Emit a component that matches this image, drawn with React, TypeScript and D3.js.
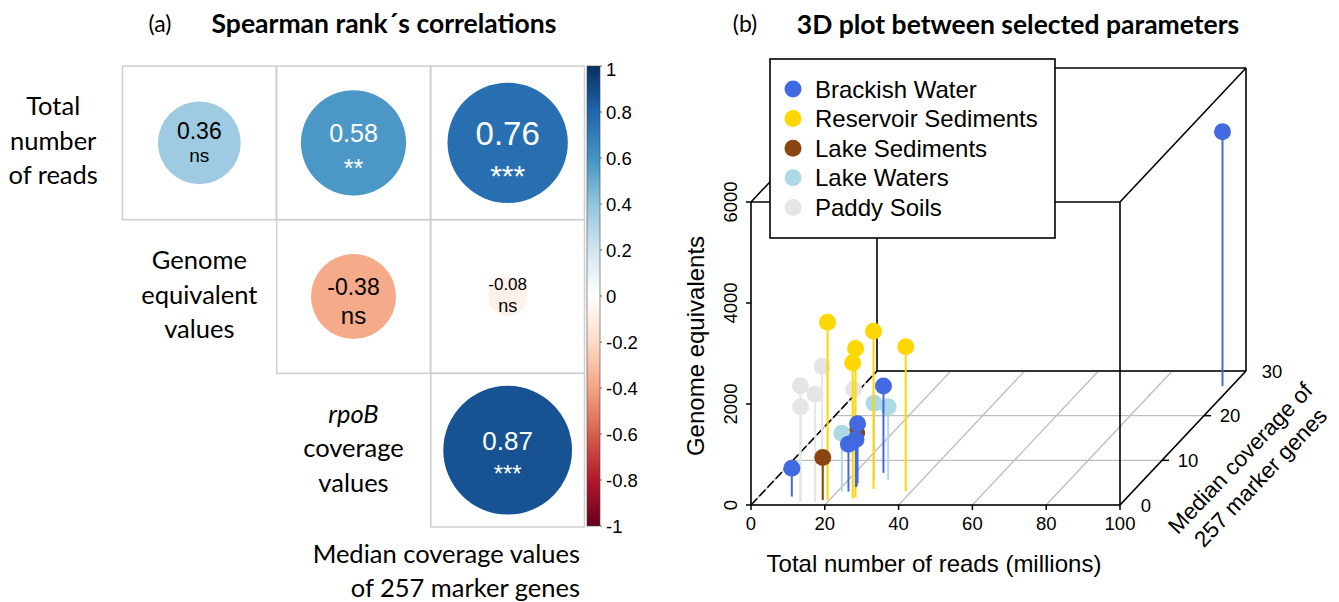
import React from 'react';
import * as d3 from 'd3';

// ---------- panel (a) data ----------
const variableLabels = [
  ['Total', 'number', 'of reads'],
  ['Genome', 'equivalent', 'values'],
  ['rpoB', 'coverage', 'values'],
];
const bottomLabel = ['Median coverage values', 'of 257 marker genes'];
const corrRows = [0, 0, 0, 1, 1, 2];
const corrCols = [1, 2, 3, 2, 3, 3];
const corrValues = [0.36, 0.58, 0.76, -0.38, -0.08, 0.87];
const corrSig = ['ns', '**', '***', 'ns', 'ns', '***'];
const colorbarTicks = [1, 0.8, 0.6, 0.4, 0.2, 0, -0.2, -0.4, -0.6, -0.8, -1];
const rdbu = ['#67001F', '#B2182B', '#D6604D', '#F4A582', '#FDDBC7', '#FFFFFF',
  '#D1E5F0', '#92C5DE', '#4393C3', '#2166AC', '#053061'];

// text sizes inside the circles (style only)
const cellText = [
  { num: 23, sig: 19, numDy: -12, sigDy: 13 },
  { num: 25, sig: 25, numDy: -9.5, sigDy: 25 },
  { num: 33, sig: 30, numDy: -9.5, sigDy: 33 },
  { num: 23, sig: 24, numDy: -10, sigDy: 18.6 },
  { num: 17, sig: 18, numDy: -12, sigDy: 9.4 },
  { num: 26, sig: 24, numDy: -9, sigDy: 23.5 },
];

// ---------- panel (b) data ----------
const groupNames = ['Brackish Water', 'Reservoir Sediments', 'Lake Sediments', 'Lake Waters', 'Paddy Soils'];
const groupColors = ['#4169E1', '#FFD700', '#8B4513', '#ADD8E6', '#E5E5E5'];
// 0 Brackish, 1 Reservoir, 2 Lake Sed, 3 Lake Waters, 4 Paddy  (draw order)
const sampleGroup = [0, 4, 4, 4, 4, 4, 3, 3, 0, 1, 1, 1, 1, 1, 2, 0, 3, 0, 0, 2, 0];
const readsMillions = [97.5, 12.6, 12.5, 16.6, 18.0, 26.0, 30.8, 27.1, 27.7, 38.4, 29.1, 26.4, 25.9, 19.5, 23.8, 23.3, 21.2, 23.0, 23.9, 18.2, 8.9];
const medianCoverage = [26.6, 0.7, 0.8, 0.7, 1.1, 1.6, 5.6, 5.5, 7.2, 3.1, 3.6, 1.7, 1.45, 1.1, 4.25, 4.9, 3.0, 3.0, 4.0, 1.1, 1.9];
const genomeEquivalents = [5040, 2300, 1870, 2130, 2650, 2150, 1450, 1530, 1720, 2860, 3120, 2950, 2690, 3520, 1055, 1175, 1155, 940, 945, 845, 560];
const xTicks = [0, 20, 40, 60, 80, 100];
const zTicks = [0, 2000, 4000, 6000];
const depthTicks = [0, 10, 20, 30];

const LATO = 'Lato, "Open Sans", sans-serif';
const ARIAL = '"Liberation Sans", Arial, sans-serif';

export default function App() {
  // panel (a) scales
  const rowBand = d3.scaleBand<number>().domain([0, 1, 2]).range([66, 527]);
  const bw = rowBand.bandwidth();
  const colBand = d3.scaleBand<number>().domain([0, 1, 2, 3]).range([122 - bw, 585]);
  const rScale = d3.scaleSqrt().domain([0, 1]).range([0, 69]);
  const color = d3.scaleLinear<string>().domain(d3.range(11).map(i => -1 + i * 0.2)).range(rdbu);
  const cb = d3.scaleLinear().domain([-1, 1]).range([526, 66]);

  // panel (b) projection
  const xS = d3.scaleLinear().domain([0, 100]).range([751, 1120]);
  const zS = d3.scaleLinear().domain([0, 6000]).range([505, 202]);
  const dS = d3.scaleLinear().domain([0, 30]).range([0, 1]);
  const DX = 126, DY = 134;
  const proj = (x: number, d: number, z: number): [number, number] =>
    [xS(x) + dS(d) * DX, zS(z) - dS(d) * DY];
  const seg = (a: [number, number], b: [number, number], key: string, props: any = {}) => (
    <line key={key} x1={a[0]} y1={a[1]} x2={b[0]} y2={b[1]} stroke="#000" strokeWidth={1.6} {...props} />
  );

  const cells: { r: number; c: number }[] = [];
  for (let r = 0; r < 3; r++) for (let c = r + 1; c <= 3; c++) cells.push({ r, c });

  return (
    <svg width={1339} height={602} style={{ display: 'block' }}>
      <style>{`body{margin:0}`}</style>
      <rect width={1339} height={602} fill="#fff" />

      {/* ---------- (a) ---------- */}
      <text x={160} y={23} fontFamily={LATO} fontSize={23} textAnchor="middle" dominantBaseline="central">(a)</text>
      <text x={384} y={23} fontFamily={LATO} fontSize={26.5} fontWeight={700} textAnchor="middle" dominantBaseline="central">
        Spearman rank´s correlations
      </text>

      {cells.map(({ r, c }) => (
        <rect key={`cell${r}${c}`} x={colBand(c)} y={rowBand(r)} width={bw} height={bw}
          fill="none" stroke="#cfcfcf" strokeWidth={1.5} />
      ))}

      {corrValues.map((v, i) => {
        const cx = colBand(corrCols[i])! + bw / 2;
        const cy = rowBand(corrRows[i])! + bw / 2;
        const st = cellText[i];
        const tc = v > 0.5 ? '#fff' : '#000';
        return (
          <g key={`corr${i}`}>
            <circle cx={cx} cy={cy} r={rScale(Math.abs(v))} fill={color(v)} />
            <text x={cx} y={cy + st.numDy} fontFamily={ARIAL} fontSize={st.num} fill={tc}
              textAnchor="middle" dominantBaseline="central">{v.toFixed(2)}</text>
            <text x={cx} y={cy + st.sigDy} fontFamily={ARIAL} fontSize={st.sig} fill={tc}
              textAnchor="middle" dominantBaseline="central">{corrSig[i]}</text>
          </g>
        );
      })}

      {variableLabels.map((lines, i) => {
        const cx = colBand(i)! + bw / 2 + (i === 0 ? 8 : 0);
        const cy = rowBand(i)! + bw / 2;
        return (
          <g key={`lab${i}`}>
            {lines.map((t, j) => (
              <text key={j} x={cx} y={cy + (j - 1) * 34.5 - 3} fontFamily={LATO} fontSize={25.5}
                fontStyle={i === 2 && j === 0 ? 'italic' : 'normal'}
                textAnchor="middle" dominantBaseline="central">{t}</text>
            ))}
          </g>
        );
      })}
      {bottomLabel.map((t, j) => (
        <text key={`bl${j}`} x={580} y={553 + j * 34} fontFamily={LATO} fontSize={25.5}
          textAnchor="end" dominantBaseline="central">{t}</text>
      ))}

      <defs>
        <linearGradient id="cbGrad" x1="0" y1="1" x2="0" y2="0">
          {rdbu.map((c, i) => <stop key={i} offset={`${i * 10}%`} stopColor={c} />)}
        </linearGradient>
      </defs>
      <rect x={587} y={cb(1)} width={13} height={cb(-1) - cb(1)} fill="url(#cbGrad)" stroke="#444" strokeWidth={0.6} />
      {colorbarTicks.map(t => (
        <g key={`cbt${t}`}>
          <line x1={600} x2={602} y1={cb(t)} y2={cb(t)} stroke="#666" strokeWidth={1} />
          <text x={606} y={cb(t) + (t === 1 ? 3 : 0)} fontFamily={ARIAL} fontSize={18.5} dominantBaseline="central">{t}</text>
        </g>
      ))}

      {/* ---------- (b) ---------- */}
      <text x={745} y={23} fontFamily={LATO} fontSize={23} textAnchor="middle" dominantBaseline="central">(b)</text>
      <text x={1018} y={24} fontFamily={LATO} fontSize={26.5} fontWeight={700} textAnchor="middle" dominantBaseline="central">
        3D plot between selected parameters
      </text>

      {/* floor grid */}
      {xTicks.map(t => seg(proj(t, 0, 0), proj(t, 30, 0), `gx${t}`, { stroke: '#bebebe', strokeWidth: 1.3 }))}
      {depthTicks.map(t => seg(proj(0, t, 0), proj(100, t, 0), `gd${t}`, { stroke: '#bebebe', strokeWidth: 1.3 }))}

      {/* box */}
      {seg(proj(0, 0, 0), proj(100, 0, 0), 'b1')}
      {seg(proj(0, 0, 6000), proj(100, 0, 6000), 'b2')}
      {seg(proj(0, 0, 0), proj(0, 0, 6000), 'b3')}
      {seg(proj(100, 0, 0), proj(100, 0, 6000), 'b4')}
      {seg(proj(0, 30, 0), proj(100, 30, 0), 'b5')}
      {seg(proj(0, 30, 6000), proj(100, 30, 6000), 'b6')}
      {seg(proj(0, 30, 0), proj(0, 30, 6000), 'b7')}
      {seg(proj(100, 30, 0), proj(100, 30, 6000), 'b8')}
      {seg(proj(0, 0, 0), proj(0, 30, 0), 'b9', { strokeDasharray: '9 3' })}
      {seg(proj(100, 0, 0), proj(100, 30, 0), 'b10')}
      {seg(proj(0, 0, 6000), proj(0, 30, 6000), 'b11')}
      {seg(proj(100, 0, 6000), proj(100, 30, 6000), 'b12')}

      {/* axes ticks */}
      {xTicks.map(t => {
        const [px, py] = proj(t, 0, 0);
        return (
          <g key={`xt${t}`}>
            <line x1={px} x2={px} y1={py} y2={py + 5} stroke="#000" strokeWidth={1.5} />
            <text x={px} y={py + 18} fontFamily={ARIAL} fontSize={18.5} textAnchor="middle" dominantBaseline="central">{t}</text>
          </g>
        );
      })}
      {zTicks.map(t => {
        const [px, py] = proj(0, 0, t);
        return (
          <g key={`zt${t}`}>
            <line x1={px - 5} x2={px} y1={py} y2={py} stroke="#000" strokeWidth={1.5} />
            <text transform={`translate(${px - 21},${py}) rotate(-90)`} fontFamily={ARIAL} fontSize={18.5}
              textAnchor="middle" dominantBaseline="central">{t}</text>
          </g>
        );
      })}
      {depthTicks.map(t => {
        const [px, py] = proj(100, t, 0);
        return (
          <g key={`dt${t}`}>
            {t > 0 && t < 30 && <line x1={px} x2={px + 7} y1={py} y2={py} stroke="#000" strokeWidth={1.5} />}
            <text x={px + 26} y={py} fontFamily={ARIAL} fontSize={18.5} textAnchor="middle" dominantBaseline="central">{t}</text>
          </g>
        );
      })}

      <text x={934} y={563} fontFamily={ARIAL} fontSize={24} textAnchor="middle" dominantBaseline="central">
        Total number of reads (millions)
      </text>
      <text transform="translate(695,346) rotate(-90)" fontFamily={ARIAL} fontSize={24} textAnchor="middle" dominantBaseline="central">
        Genome equivalents
      </text>
      <text transform="translate(1240,458) rotate(-46.5)" fontFamily={ARIAL} fontSize={22.5} textAnchor="middle" dominantBaseline="central">
        <tspan x={0} y={0}>Median coverage of</tspan>
        <tspan x={0} y={28}>257 marker genes</tspan>
      </text>

      {/* points with drop lines */}
      {sampleGroup.map((g, i) => {
        const top = proj(readsMillions[i], medianCoverage[i], genomeEquivalents[i]);
        const base = proj(readsMillions[i], medianCoverage[i], 0);
        return (
          <g key={`pt${i}`}>
            <line x1={base[0]} y1={base[1]} x2={top[0]} y2={top[1]} stroke={groupColors[g]} strokeWidth={2} />
            <circle cx={top[0]} cy={top[1]} r={8.5} fill={groupColors[g]} />
          </g>
        );
      })}

      {/* legend */}
      <rect x={770} y={59} width={285} height={179} fill="#fff" stroke="#000" strokeWidth={1.6} />
      {groupNames.map((n, i) => (
        <g key={`lg${i}`}>
          <circle cx={793} cy={89 + i * 29.6} r={8.5} fill={groupColors[i]} />
          <text x={815} y={89 + i * 29.6} fontFamily={ARIAL} fontSize={24} dominantBaseline="central">{n}</text>
        </g>
      ))}
    </svg>
  );
}
